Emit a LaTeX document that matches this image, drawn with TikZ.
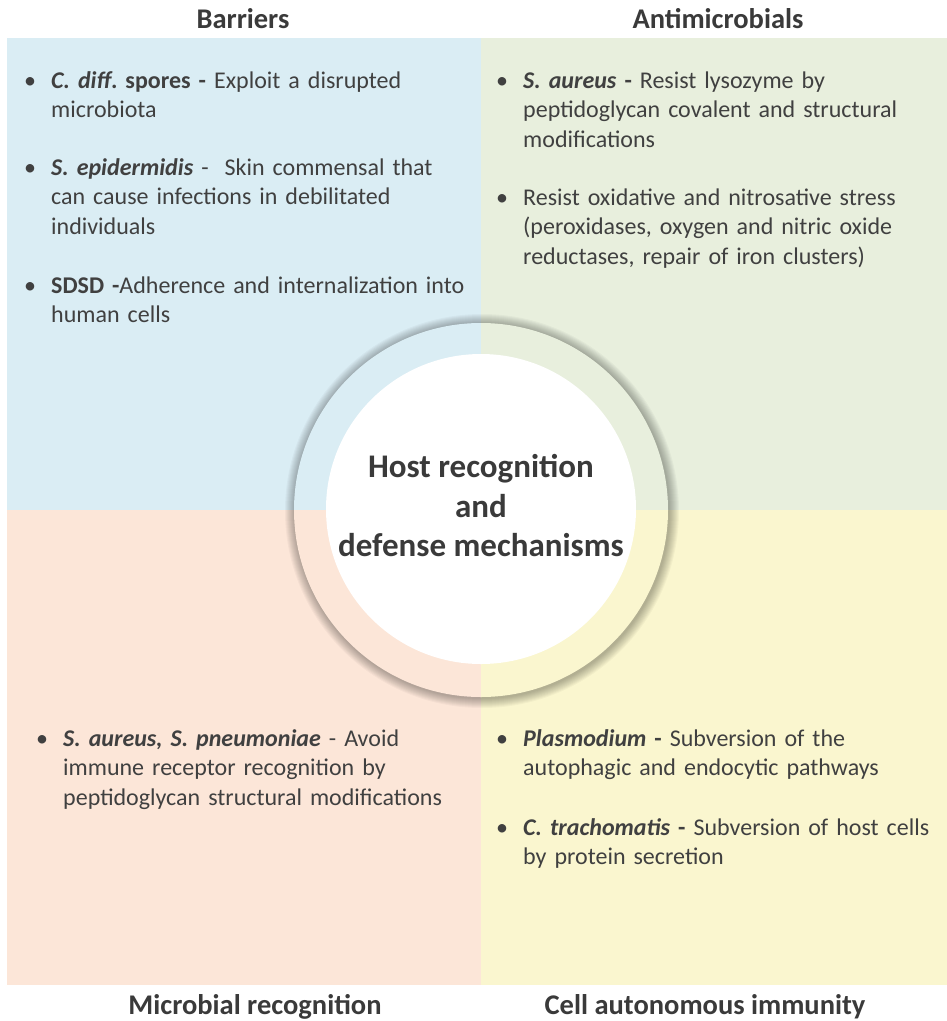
\documentclass[tikz,border=0pt]{standalone}
\usepackage{fontspec}
\setmainfont{Carlito}
\frenchspacing
\definecolor{qblue}{HTML}{DAEDF4}
\definecolor{qgreen}{HTML}{E8EFDD}
\definecolor{qpeach}{HTML}{FCE6D8}
\definecolor{qyellow}{HTML}{FAF6CF}
\definecolor{txt}{HTML}{404040}
\definecolor{ttl}{HTML}{3A3A3A}
\tikzset{
  item/.style={anchor=base west, inner sep=0pt, text=txt, text width=#1, align=left,
    font=\fontsize{24}{29.5}\selectfont},
  title/.style={anchor=base, inner sep=0pt, text=ttl, font=\fontsize{28.5}{30}\selectfont\bfseries},
  center/.style={align=center, inner sep=0pt, text=ttl, font=\fontsize{33}{39.5}\selectfont\bfseries}
}
\newcommand{\bul}[1]{\hangindent=26pt\hangafter=1\noindent\makebox[26pt][l]{\hspace{-1pt}•}#1\par}
\newcommand{\quads}{%
  \fill[qblue] (7,38) rectangle (481,510);
  \fill[qgreen] (481,38) rectangle (947,510);
  \fill[qpeach] (7,510) rectangle (481,985);
  \fill[qyellow] (481,510) rectangle (947,985);}
\begin{document}
\begin{tikzpicture}[x=1pt,y=-1pt]
\useasboundingbox[fill=white] (0,0) rectangle (947,1021);
\quads
% ring shadow
\foreach \r in {197,196,195,194,193,192,191,190,189,188}{
  \fill[black,opacity=0.03] (482,511) circle (\r);
}
% ring (quadrant colours inside the disc)
\begin{scope}
  \clip (481,510) circle (187);
  \quads
\end{scope}
\node[circle,fill=white,minimum size=310pt,inner sep=0pt] (hub) at (481,509) {};
\node[center] (hubtxt) at (481,506) {Host recognition\\and\\defense mechanisms};
% titles
\node[title] (t1) at (243,28) {Barriers};
\node[title] (t2) at (718,28) {Antimicrobials};
\node[title] (t3) at (255,1014) {Microbial recognition};
\node[title] (t4) at (705,1014) {Cell autonomous immunity};
% top-left
\node[item=520pt] (b1) at (25,88) {%
\bul{\textbf{{\itshape C. diff}. spores -} Exploit a disrupted\newline microbiota}};
\node[item=520pt] (b2) at (25,175) {%
\bul{\textbf{\textit{S. epidermidis}} -\ \ Skin commensal that\newline can cause infections in debilitated\newline individuals}};
\node[item=520pt] (b3) at (25,293) {%
\bul{\textbf{SDSD -}Adherence and internalization into\newline human cells}};
% top-right
\node[item=440pt] (a1) at (497,88) {%
\bul{\textbf{\textit{S. aureus} -} Resist lysozyme by\newline peptidoglycan covalent and structural\newline modifications}};
\node[item=440pt] (a2) at (497,205) {%
\bul{Resist oxidative and nitrosative stress\newline (peroxidases, oxygen and nitric oxide\newline reductases, repair of iron clusters)}};
% bottom-left
\node[item=500pt] (m1) at (37,746) {%
\bul{\textbf{\textit{S. aureus, S. pneumoniae}} - Avoid\newline immune receptor recognition by\newline peptidoglycan structural modifications}};
% bottom-right
\node[item=440pt] (c1) at (497,746) {%
\bul{\textbf{\textit{Plasmodium} -} Subversion of the\newline autophagic and endocytic pathways}};
\node[item=440pt] (c2) at (497,835) {%
\bul{\textbf{\textit{C. trachomatis} -} Subversion of host cells\newline by protein secretion}};
\end{tikzpicture}
\end{document}
